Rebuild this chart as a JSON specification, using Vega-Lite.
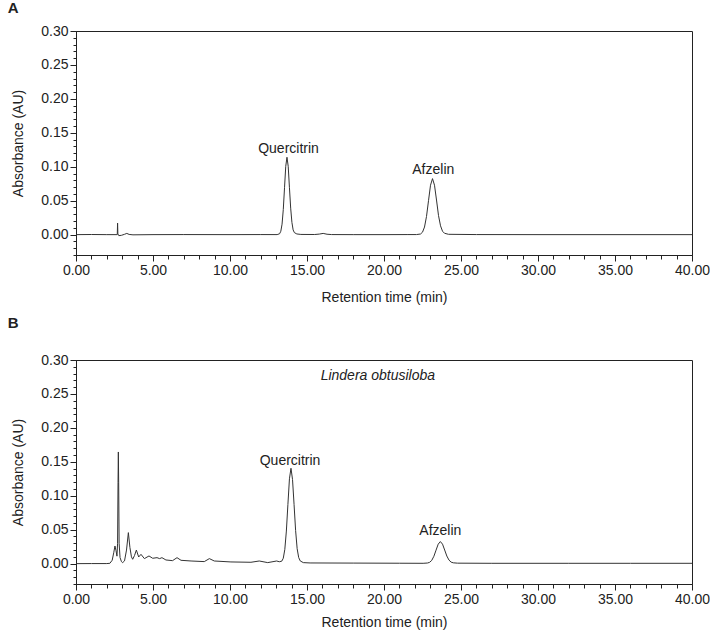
{
  "$schema": "https://vega.github.io/schema/vega-lite/v6.json",
  "padding": {"left": 7, "top": 0, "right": 5, "bottom": 3},
  "background": "white",
  "datasets": {
    "traceA": [
      {"t": 0, "a": 0}, {"t": 1.0, "a": 0.0002}, {"t": 2.0, "a": 0.0}, {"t": 2.6, "a": 0.0}, {"t": 2.68, "a": 0.0},
      {"t": 2.70, "a": 0.017}, {"t": 2.72, "a": 0.001}, {"t": 2.78, "a": -0.0015}, {"t": 2.95, "a": -0.001},
      {"t": 3.15, "a": 0.0005}, {"t": 3.3, "a": 0.0018}, {"t": 3.45, "a": 0.0003}, {"t": 3.7, "a": -0.0003},
      {"t": 5, "a": 0}, {"t": 7, "a": 0.0001}, {"t": 10, "a": 0}, {"t": 12, "a": 0.0001},
      {"t": 13.06, "a": 0.00004}, {"t": 13.22, "a": 0.0013}, {"t": 13.30, "a": 0.005}, {"t": 13.38, "a": 0.0154},
      {"t": 13.46, "a": 0.037}, {"t": 13.54, "a": 0.0691}, {"t": 13.62, "a": 0.1006}, {"t": 13.70, "a": 0.114},
      {"t": 13.78, "a": 0.1006}, {"t": 13.86, "a": 0.0691}, {"t": 13.94, "a": 0.039}, {"t": 14.02, "a": 0.018},
      {"t": 14.10, "a": 0.007}, {"t": 14.18, "a": 0.003}, {"t": 14.34, "a": 0.001}, {"t": 14.6, "a": 0.0003},
      {"t": 15.5, "a": 0.0002}, {"t": 15.8, "a": 0.0008}, {"t": 16.05, "a": 0.0018}, {"t": 16.3, "a": 0.0006},
      {"t": 16.6, "a": 0.0001}, {"t": 18, "a": 0}, {"t": 20, "a": 0}, {"t": 21.5, "a": 0.0001},
      {"t": 22.11, "a": 0.0001}, {"t": 22.37, "a": 0.0009}, {"t": 22.50, "a": 0.0036}, {"t": 22.63, "a": 0.0112},
      {"t": 22.76, "a": 0.0268}, {"t": 22.89, "a": 0.05}, {"t": 23.02, "a": 0.0728}, {"t": 23.15, "a": 0.0825},
      {"t": 23.28, "a": 0.0728}, {"t": 23.41, "a": 0.051}, {"t": 23.54, "a": 0.028}, {"t": 23.67, "a": 0.013},
      {"t": 23.80, "a": 0.005}, {"t": 23.93, "a": 0.002}, {"t": 24.19, "a": 0.0005}, {"t": 26, "a": 0.0001},
      {"t": 30, "a": 0}, {"t": 35, "a": 0}, {"t": 40, "a": 0}
    ],
    "traceB": [
      {"t": 0, "a": 0}, {"t": 1.0, "a": 0.0001}, {"t": 2.0, "a": 0.0001}, {"t": 2.2, "a": 0.0005},
      {"t": 2.35, "a": 0.005}, {"t": 2.45, "a": 0.016}, {"t": 2.53, "a": 0.026}, {"t": 2.6, "a": 0.019},
      {"t": 2.66, "a": 0.011}, {"t": 2.70, "a": 0.03}, {"t": 2.73, "a": 0.12}, {"t": 2.75, "a": 0.1645},
      {"t": 2.77, "a": 0.12}, {"t": 2.80, "a": 0.03}, {"t": 2.86, "a": 0.009}, {"t": 2.95, "a": 0.003},
      {"t": 3.03, "a": 0.0015}, {"t": 3.15, "a": 0.004}, {"t": 3.28, "a": 0.02}, {"t": 3.4, "a": 0.0457},
      {"t": 3.5, "a": 0.024}, {"t": 3.6, "a": 0.01}, {"t": 3.68, "a": 0.0064}, {"t": 3.8, "a": 0.012},
      {"t": 3.92, "a": 0.02}, {"t": 4.07, "a": 0.0098}, {"t": 4.22, "a": 0.0137}, {"t": 4.44, "a": 0.0074},
      {"t": 4.74, "a": 0.0113}, {"t": 4.98, "a": 0.0079}, {"t": 5.26, "a": 0.0088}, {"t": 5.43, "a": 0.0074},
      {"t": 5.58, "a": 0.0088}, {"t": 5.84, "a": 0.0054}, {"t": 6.27, "a": 0.0044}, {"t": 6.56, "a": 0.0088},
      {"t": 6.82, "a": 0.0049}, {"t": 7.47, "a": 0.0039}, {"t": 8.33, "a": 0.003}, {"t": 8.66, "a": 0.0074},
      {"t": 8.98, "a": 0.0039}, {"t": 10.06, "a": 0.0025}, {"t": 11.36, "a": 0.002}, {"t": 11.9, "a": 0.0039},
      {"t": 12.45, "a": 0.0015}, {"t": 13.03, "a": 0.0039}, {"t": 13.2, "a": 0.0028}, {"t": 13.36, "a": 0.0036},
      {"t": 13.46, "a": 0.008}, {"t": 13.56, "a": 0.021}, {"t": 13.66, "a": 0.048}, {"t": 13.76, "a": 0.087},
      {"t": 13.86, "a": 0.125}, {"t": 13.96, "a": 0.1405}, {"t": 14.06, "a": 0.124}, {"t": 14.16, "a": 0.087},
      {"t": 14.26, "a": 0.049}, {"t": 14.36, "a": 0.022}, {"t": 14.46, "a": 0.009}, {"t": 14.56, "a": 0.004},
      {"t": 14.76, "a": 0.0015}, {"t": 15.2, "a": 0.001}, {"t": 18, "a": 0.0008}, {"t": 21, "a": 0.0006},
      {"t": 22.54, "a": 0.0005}, {"t": 22.82, "a": 0.0009}, {"t": 22.96, "a": 0.0019}, {"t": 23.10, "a": 0.0048},
      {"t": 23.24, "a": 0.0109}, {"t": 23.38, "a": 0.0199}, {"t": 23.52, "a": 0.0287}, {"t": 23.66, "a": 0.0325},
      {"t": 23.80, "a": 0.0287}, {"t": 23.94, "a": 0.02}, {"t": 24.08, "a": 0.0112}, {"t": 24.22, "a": 0.0052},
      {"t": 24.36, "a": 0.0022}, {"t": 24.50, "a": 0.0012}, {"t": 24.78, "a": 0.0007}, {"t": 27, "a": 0.0005},
      {"t": 32, "a": 0.0005}, {"t": 36, "a": 0.0005}, {"t": 40, "a": 0.0005}
    ],
    "labelsA": [
      {"t": 13.8, "a": 0.126, "label": "Quercitrin"},
      {"t": 23.2, "a": 0.095, "label": "Afzelin"}
    ],
    "labelsB": [
      {"t": 13.9, "a": 0.151, "label": "Quercitrin"},
      {"t": 23.66, "a": 0.048, "label": "Afzelin"}
    ],
    "speciesB": [
      {"t": 19.6, "a": 0.276, "label": "Lindera obtusiloba"}
    ]
  },
  "vconcat": [
    {
      "title": {"text": "A", "anchor": "start", "frame": "bounds", "dx": -4, "dy": -3, "fontSize": 15, "fontWeight": "bold", "font": "Liberation Sans", "color": "#222", "offset": 5},
      "width": 616,
      "height": 224,
      "resolve": {"axis": {"x": "independent", "y": "independent"}},
      "layer": [
        {
          "data": {"name": "traceA"},
          "mark": {"type": "line", "color": "#333", "strokeWidth": 1, "clip": true},
          "encoding": {
            "x": {"field": "t", "type": "quantitative", "scale": {"domain": [0, 40], "nice": false},
              "axis": {"orient": "bottom", "title": "Retention time (min)", "values": [0, 5, 10, 15, 20, 25, 30, 35, 40], "format": ".2f",
                "tickSize": 6, "labelPadding": 2, "titlePadding": 13, "labelFlush": false, "labelOverlap": false}},
            "y": {"field": "a", "type": "quantitative", "scale": {"domain": [-0.03, 0.30], "nice": false, "zero": false},
              "axis": {"orient": "left", "title": "Absorbance (AU)", "values": [0, 0.05, 0.1, 0.15, 0.2, 0.25, 0.3], "format": ".2f",
                "tickSize": 6, "labelPadding": 2, "titlePadding": 15, "labelOverlap": false}}
          }
        },
        {
          "data": {"name": "labelsA"},
          "mark": {"type": "text", "font": "Liberation Sans", "fontSize": 14, "color": "#222", "align": "center", "baseline": "middle"},
          "encoding": {
            "x": {"field": "t", "type": "quantitative",
              "axis": {"orient": "bottom", "title": null, "labels": false, "domain": false, "tickSize": 4,
                "values": [0,1,2,3,4,5,6,7,8,9,10,11,12,13,14,15,16,17,18,19,20,21,22,23,24,25,26,27,28,29,30,31,32,33,34,35,36,37,38,39,40]}},
            "y": {"field": "a", "type": "quantitative",
              "axis": {"orient": "left", "title": null, "labels": false, "domain": false, "tickSize": 3,
                "values": [-0.03,-0.02,-0.01,0,0.01,0.02,0.03,0.04,0.05,0.06,0.07,0.08,0.09,0.1,0.11,0.12,0.13,0.14,0.15,0.16,0.17,0.18,0.19,0.2,0.21,0.22,0.23,0.24,0.25,0.26,0.27,0.28,0.29,0.3]}},
            "text": {"field": "label"}
          }
        }
      ]
    },
    {
      "title": {"text": "B", "anchor": "start", "frame": "bounds", "dx": -4, "fontSize": 15, "fontWeight": "bold", "font": "Liberation Sans", "color": "#222", "offset": 22},
      "width": 616,
      "height": 224,
      "resolve": {"axis": {"x": "independent", "y": "independent"}},
      "layer": [
        {
          "data": {"name": "traceB"},
          "mark": {"type": "line", "color": "#333", "strokeWidth": 1, "clip": true},
          "encoding": {
            "x": {"field": "t", "type": "quantitative", "scale": {"domain": [0, 40], "nice": false},
              "axis": {"orient": "bottom", "title": "Retention time (min)", "values": [0, 5, 10, 15, 20, 25, 30, 35, 40], "format": ".2f",
                "tickSize": 6, "labelPadding": 2, "titlePadding": 9, "labelFlush": false, "labelOverlap": false}},
            "y": {"field": "a", "type": "quantitative", "scale": {"domain": [-0.03, 0.30], "nice": false, "zero": false},
              "axis": {"orient": "left", "title": "Absorbance (AU)", "values": [0, 0.05, 0.1, 0.15, 0.2, 0.25, 0.3], "format": ".2f",
                "tickSize": 6, "labelPadding": 2, "titlePadding": 15, "labelOverlap": false}}
          }
        },
        {
          "data": {"name": "labelsB"},
          "mark": {"type": "text", "font": "Liberation Sans", "fontSize": 14, "color": "#222", "align": "center", "baseline": "middle"},
          "encoding": {
            "x": {"field": "t", "type": "quantitative",
              "axis": {"orient": "bottom", "title": null, "labels": false, "domain": false, "tickSize": 4,
                "values": [0,1,2,3,4,5,6,7,8,9,10,11,12,13,14,15,16,17,18,19,20,21,22,23,24,25,26,27,28,29,30,31,32,33,34,35,36,37,38,39,40]}},
            "y": {"field": "a", "type": "quantitative",
              "axis": {"orient": "left", "title": null, "labels": false, "domain": false, "tickSize": 3,
                "values": [-0.03,-0.02,-0.01,0,0.01,0.02,0.03,0.04,0.05,0.06,0.07,0.08,0.09,0.1,0.11,0.12,0.13,0.14,0.15,0.16,0.17,0.18,0.19,0.2,0.21,0.22,0.23,0.24,0.25,0.26,0.27,0.28,0.29,0.3]}},
            "text": {"field": "label"}
          }
        },
        {
          "data": {"name": "speciesB"},
          "mark": {"type": "text", "font": "Liberation Sans", "fontSize": 14, "fontStyle": "italic", "color": "#222", "align": "center", "baseline": "middle"},
          "encoding": {
            "x": {"field": "t", "type": "quantitative", "axis": null},
            "y": {"field": "a", "type": "quantitative", "axis": null},
            "text": {"field": "label"}
          }
        }
      ]
    }
  ],
  "spacing": 10,
  "config": {
    "view": {"stroke": "#222", "strokeWidth": 1},
    "axis": {"grid": false, "domainColor": "#222", "tickColor": "#222", "labelColor": "#222", "titleColor": "#222",
      "labelFont": "Liberation Sans", "titleFont": "Liberation Sans", "labelFontSize": 14, "titleFontSize": 14, "titleFontWeight": "normal",
      "domainWidth": 1, "tickWidth": 1}
  }
}
